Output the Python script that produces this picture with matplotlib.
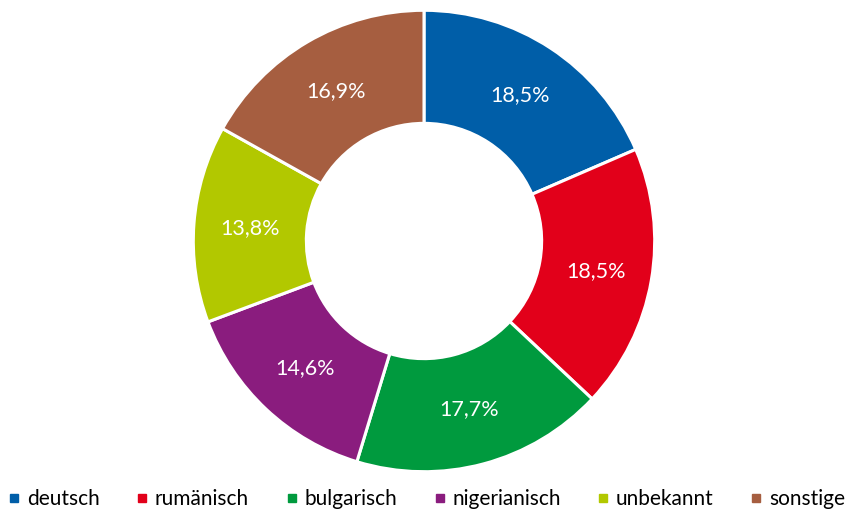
import numpy as np
import matplotlib.pyplot as plt
from matplotlib.lines import Line2D

# data
labels = ["deutsch", "rumänisch", "bulgarisch", "nigerianisch", "unbekannt", "sonstige"]
values = [18.5, 18.5, 17.7, 14.6, 13.8, 16.9]
colors = ["#005EA8", "#E2001A", "#009A3E", "#8A1C7E", "#B2C800", "#A65E40"]

plt.rcParams['font.family'] = ['Lato', 'DejaVu Sans']

W, H = 850, 511
fig = plt.figure(figsize=(W / 100, H / 100), dpi=100)
cx, cy, r = 424, 241, 233
ax = fig.add_axes([(cx - r) / W, (H - cy - r) / H, 2 * r / W, 2 * r / H])

wedges, texts = ax.pie(values, colors=colors, startangle=90, counterclock=False,
                       radius=1.0, wedgeprops=dict(width=0.49, edgecolor='white', linewidth=2.2))
for w, v in zip(wedges, values):
    ang = np.deg2rad((w.theta1 + w.theta2) / 2)
    ax.text(0.755 * np.cos(ang), 0.755 * np.sin(ang), f"{v:.1f}%".replace('.', ','),
            ha='center', va='center', color='white', fontsize=15.5)
ax.set_xlim(-1.01, 1.01)
ax.set_ylim(-1.01, 1.01)
ax.set_aspect('equal')
ax.axis('off')

handles = [Line2D([], [], marker='s', linestyle='none', markersize=6, color=c) for c in colors]
fig.legend(handles, labels, loc='lower center', ncol=6, frameon=False, fontsize=15,
           bbox_to_anchor=(0.5, -0.033), handletextpad=0.15, columnspacing=1.6, handlelength=0.9)

fig.savefig("out.png", dpi=100)
